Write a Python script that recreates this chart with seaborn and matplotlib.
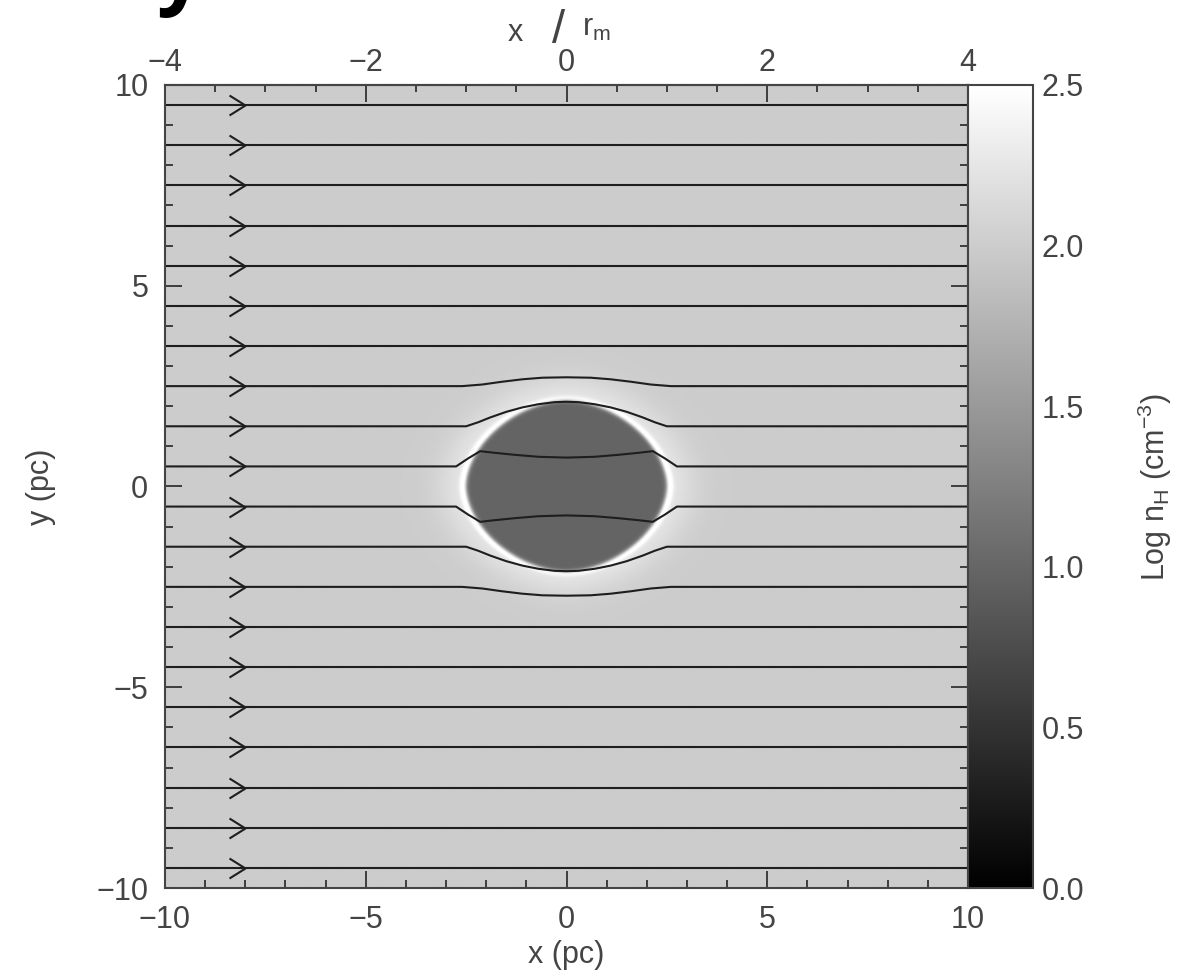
import numpy as np
import pandas as pd
import matplotlib
matplotlib.use("Agg")
import matplotlib.pyplot as plt
from matplotlib.path import Path
from matplotlib.ticker import MultipleLocator
import seaborn as sns

sns.set_style("ticks")
plt.rcParams["font.family"] = ["Liberation Sans", "DejaVu Sans"]
plt.rcParams["mathtext.fontset"] = "custom"
plt.rcParams["mathtext.rm"] = "Liberation Sans"
plt.rcParams["mathtext.it"] = "Liberation Sans"

TXT = "#444444"
LINE = "#1e1e1e"

# ---- density model (log n_H, cm^-3) ----
log_n_ambient = 2.0
log_n_cloud = 0.98
cloud_semi_x = 2.5      # pc
cloud_semi_y = 2.12     # pc
cloud_shape_p = 1.8
rim_boost = 0.5
halo_boost = 0.24
r_m = 2.5               # pc per unit of x / r_m

# ---- field lines: starting heights (pc) ----
stream_y0 = [9.5, 8.5, 7.5, 6.5, 5.5, 4.5, 3.5, 2.5, 1.5, 0.5,
             -0.5, -1.5, -2.5, -3.5, -4.5, -5.5, -6.5, -7.5, -8.5, -9.5]
arrow_x = -8.0

# traced paths of the field lines bent by the cloud (upper half; the lower
# half is the mirror image)
bent_x_25 = [-10, -2.6, -2.1, -1.6, -1.1, -0.6, 0, 0.6, 1.1, 1.6, 2.1, 2.6, 10]
bent_y_25 = [2.5, 2.5, 2.54, 2.61, 2.67, 2.71, 2.72, 2.71, 2.67, 2.61, 2.54, 2.5, 2.5]
bent_x_15 = [-10, -2.5, -2.2, -1.9, -1.5, -1.1, -0.7, -0.3, 0,
             0.3, 0.7, 1.1, 1.5, 1.9, 2.2, 2.5, 10]
bent_y_15 = [1.5, 1.5, 1.6, 1.72, 1.86, 1.97, 2.05, 2.1, 2.11,
             2.1, 2.05, 1.97, 1.86, 1.72, 1.6, 1.5, 1.5]
bent_x_05 = [-10, -2.75, -2.45, -2.15, -1.8, -1.3, -0.7, 0,
             0.7, 1.3, 1.8, 2.15, 2.45, 2.75, 10]
bent_y_05 = [0.5, 0.5, 0.7, 0.88, 0.84, 0.79, 0.74, 0.72,
             0.74, 0.79, 0.84, 0.88, 0.7, 0.5, 0.5]

# ---- build density grid ----
grid = np.linspace(-10, 10, 601)
X, Y = np.meshgrid(grid, grid)
s = (np.abs(X / cloud_semi_x) ** cloud_shape_p +
     np.abs(Y / cloud_semi_y) ** cloud_shape_p) ** (1.0 / cloud_shape_p)
inside = 1.0 / (1.0 + np.exp((s - 1.0) / 0.012))
theta = np.arctan2(Y / cloud_semi_y, X / cloud_semi_x)
rim_weight = 0.5 + 0.5 * np.abs(np.cos(theta))
density = log_n_ambient + (log_n_cloud - log_n_ambient) * inside
density += rim_boost * rim_weight * np.exp(-((s - 1.03) / 0.035) ** 2) * (1 - inside)
density += halo_boost * np.exp(-((s - 1.0) / 0.3) ** 2) * (1 - inside)
density = np.clip(density, 0, 2.5)

# ---- field line table ----
rows = []
bent = {2.5: (bent_x_25, bent_y_25), 1.5: (bent_x_15, bent_y_15),
        0.5: (bent_x_05, bent_y_05)}
for i, y0 in enumerate(stream_y0):
    key = abs(y0)
    if key in bent:
        bx, by = bent[key]
        sign = 1 if y0 > 0 else -1
        for xv, yv in zip(bx, by):
            rows.append({"line": i, "x": xv, "y": sign * yv})
    else:
        rows.append({"line": i, "x": -10.0, "y": y0})
        rows.append({"line": i, "x": 10.0, "y": y0})
lines = pd.DataFrame(rows)

# ---- figure ----
W, H = 1178, 980
fig = plt.figure(figsize=(W / 100, H / 100), dpi=100)
ax = fig.add_axes([165 / W, 92 / H, 803 / W, 803 / H])
cax = fig.add_axes([968 / W, 92 / H, 65 / W, 803 / H])

im = ax.imshow(density, origin="lower", extent=[-10, 10, -10, 10],
               cmap="gray", vmin=0, vmax=2.5, aspect="auto",
               interpolation="bilinear")

sns.lineplot(data=lines, x="x", y="y", units="line", estimator=None,
             sort=False, color=LINE, linewidth=1.5, legend=False, ax=ax)

chevron = Path([(-1.6, 1.0), (0.0, 0.0), (-1.6, -1.0)],
               [Path.MOVETO, Path.LINETO, Path.LINETO])
ax.plot([arrow_x] * len(stream_y0), stream_y0, linestyle="none",
        marker=chevron, markersize=23, markerfacecolor="none",
        markeredgecolor=LINE, markeredgewidth=1.5)

ax.set_xlim(-10, 10)
ax.set_ylim(-10, 10)
ax.set_xlabel("x (pc)", fontsize=22, color=TXT, labelpad=4)
ax.set_ylabel("y (pc)", fontsize=22, color=TXT, labelpad=29)
ax.xaxis.set_major_locator(MultipleLocator(5))
ax.xaxis.set_minor_locator(MultipleLocator(1))
ax.yaxis.set_major_locator(MultipleLocator(5))
ax.yaxis.set_minor_locator(MultipleLocator(1))
ax.tick_params(which="both", direction="in", top=False, right=True,
               colors="#333333", labelcolor=TXT, labelsize=22, width=1.3)
ax.tick_params(which="major", length=12, pad=12)
ax.tick_params(which="minor", length=6)
for sp in ax.spines.values():
    sp.set_color("#444444")
    sp.set_linewidth(1.5)

top = ax.secondary_xaxis("top", functions=(lambda v: v / r_m, lambda v: v * r_m))
top.xaxis.set_major_locator(MultipleLocator(2))
top.xaxis.set_minor_locator(MultipleLocator(0.5))
top.tick_params(which="both", direction="in", colors="#333333",
                labelcolor=TXT, labelsize=22, width=1.3)
top.tick_params(which="major", length=12, pad=5)
top.tick_params(which="minor", length=5)
top.spines["top"].set_color("#444444")
top.spines["top"].set_linewidth(1.5)

# top-axis title: x / r_m
fig.text(515 / W, 1 - 33 / H, "x", fontsize=22, color=TXT, ha="center", va="center")
fig.text(559 / W, 1 - 31 / H, "/", fontsize=34, color=TXT, ha="center",
         va="center", fontweight="light")
fig.text(596 / W, 1 - 28 / H, r"r$_{\rm m}$", fontsize=22, color=TXT,
         ha="center", va="center")

cb = fig.colorbar(im, cax=cax)
cb.outline.set_edgecolor("#444444")
cb.outline.set_linewidth(1.5)
cb.set_ticks([0.0, 0.5, 1.0, 1.5, 2.0, 2.5])
cb.ax.yaxis.set_major_formatter(matplotlib.ticker.FormatStrFormatter("%.1f"))
cax.yaxis.set_minor_locator(MultipleLocator(0.25))
cax.tick_params(which="both", direction="in", left=True, right=True,
                labelleft=False, labelright=True, colors="#333333",
                labelcolor=TXT, labelsize=22, width=1.3)
cax.tick_params(which="major", length=12, pad=6)
cax.tick_params(which="minor", length=7)
cb.set_label(r"Log n$_{\rm H}$ (cm$^{-3}$)", fontsize=22, color=TXT, labelpad=37)

# panel letter partly above the top edge
fig.text(157 / W, 1.0 + 2 / H, "y", fontsize=60, fontweight="bold",
         family="Open Sans", color="black", ha="left", va="baseline")

fig.savefig("out.png", dpi=100, facecolor="white")
